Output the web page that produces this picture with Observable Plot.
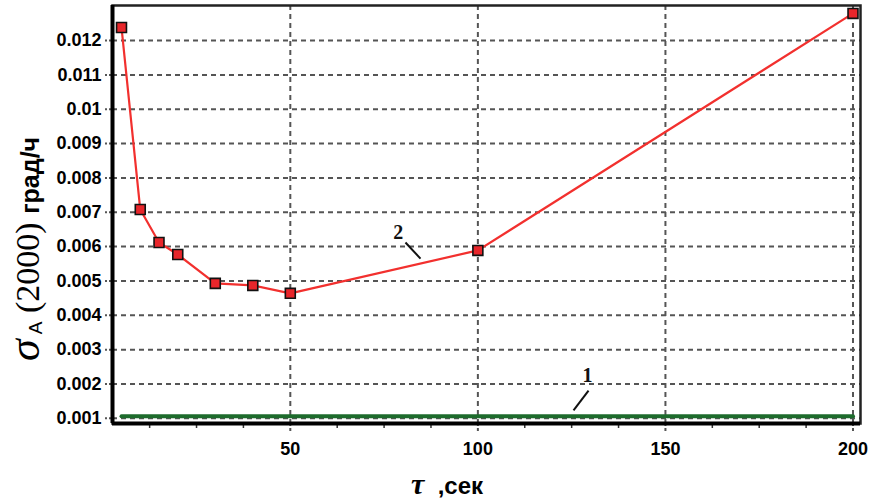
<!DOCTYPE html>
<html>
<head>
<meta charset="utf-8">
<script src="https://cdn.jsdelivr.net/npm/d3@7"></script>
<script src="https://cdn.jsdelivr.net/npm/@observablehq/plot@0.6"></script>
<style>
  html, body { margin: 0; padding: 0; background: #fff; }
</style>
</head>
<body>
<div id="chart"></div>
<script>
// Series 2 (red, squares)
const tau2 = [5, 10, 15, 20, 30, 40, 50, 100, 200];
const sigma2 = [0.01238, 0.00708, 0.00612, 0.00577, 0.00493, 0.00487, 0.00464, 0.00589, 0.01279];
// Series 1 (green line)
const tau1 = [5, 200];
const sigma1 = [0.00106, 0.00106];
// Axes
const xDomain = [2.6, 202];
const yDomain = [0.00085, 0.01302];
const xTicks = [50, 100, 150, 200];
const xMinorTicks = [12.5, 25, 37.5, 62.5, 75, 87.5, 112.5, 125, 137.5, 162.5, 175, 187.5];
const yTicks = [0.001, 0.002, 0.003, 0.004, 0.005, 0.006, 0.007, 0.008, 0.009, 0.01, 0.011, 0.012];
const yTickLabels = ["0.001", "0.002", "0.003", "0.004", "0.005", "0.006", "0.007", "0.008", "0.009", "0.01", "0.011", "0.012"];
// Curve labels and their leader lines
const curveLabels = ["2", "1"];
const labelTau = [78.8, 129.2];
const labelSigma = [0.00641, 0.00225];
const leaderTau1 = [80.7, 129.5];
const leaderSigma1 = [0.00612, 0.00181];
const leaderTau2 = [84.7, 125.5];
const leaderSigma2 = [0.00565, 0.00123];

const s2 = tau2.map((t, i) => ({tau: t, sigma: sigma2[i]}));
const s1 = tau1.map((t, i) => ({tau: t, sigma: sigma1[i]}));
const labels = curveLabels.map((l, i) => ({
  label: l, x: labelTau[i], y: labelSigma[i],
  x1: leaderTau1[i], y1: leaderSigma1[i], x2: leaderTau2[i], y2: leaderSigma2[i]
}));

const tickFont = "'Liberation Sans', Arial, sans-serif";
const gridStyle = {stroke: "#555", strokeOpacity: 1, strokeWidth: 2, strokeDasharray: "5,4"};

const svg = Plot.plot({
  width: 872,
  height: 499,
  marginLeft: 112,
  marginRight: 12,
  marginTop: 5,
  marginBottom: 76,
  style: {background: "#fff", fontFamily: tickFont},
  x: {type: "linear", domain: xDomain},
  y: {type: "linear", domain: yDomain},
  marks: [
    Plot.gridY(yTicks, gridStyle),
    Plot.gridX(xTicks, gridStyle),
    Plot.axisY(yTicks, {
      tickSize: 7, tickPadding: 4, stroke: "#555", strokeWidth: 2, strokeDasharray: "3,2",
      tickFormat: (d) => yTickLabels[yTicks.indexOf(d)],
      fontSize: 18, fontWeight: "bold", fill: "#000", label: null
    }),
    Plot.axisX(xTicks, {
      tickSize: 9, tickPadding: 10, stroke: "#555", strokeWidth: 2, strokeDasharray: "3,2",
      fontSize: 18, fontWeight: "bold", fill: "#000", label: null
    }),
    Plot.axisX(xMinorTicks, {tickSize: 5, stroke: "#333", strokeWidth: 1.5, text: null, label: null}),
    Plot.frame({stroke: "#222", strokeWidth: 2.5}),
    Plot.ruleX([xDomain[0]], {stroke: "#000", strokeWidth: 4}),
    Plot.ruleY([yDomain[0]], {stroke: "#000", strokeWidth: 4}),
    Plot.line(s1, {x: "tau", y: "sigma", stroke: "#1d6b2c", strokeWidth: 4}),
    Plot.line(s2, {x: "tau", y: "sigma", stroke: "#f2302e", strokeWidth: 2.2}),
    Plot.dot(s2, {x: "tau", y: "sigma", symbol: "square", r: 5.6, fill: "#e8262b", stroke: "#111", strokeWidth: 1.6}),
    Plot.link(labels, {x1: "x1", y1: "y1", x2: "x2", y2: "y2", stroke: "#111", strokeWidth: 2}),
    Plot.text(labels, {x: "x", y: "y", text: "label", fontSize: 20, fontWeight: "bold",
      fontFamily: "'Liberation Serif', 'Times New Roman', serif", fill: "#111"})
  ]
});

const root = d3.select(svg);
// Y axis title (rich text)
const yt = root.append("text")
  .attr("transform", "translate(39,249) rotate(-90)")
  .attr("text-anchor", "middle")
  .attr("fill", "#000");
yt.append("tspan").attr("font-family", "'Liberation Serif', serif").attr("font-style", "italic")
  .attr("font-size", 44).text("σ");
yt.append("tspan").attr("font-family", "'Liberation Sans', sans-serif").attr("font-size", 19)
  .attr("dy", 3).text(" A");
yt.append("tspan").attr("font-family", "'Liberation Serif', serif").attr("font-size", 34)
  .attr("dy", -3).text(" (2000) ");
yt.append("tspan").attr("font-family", "'Liberation Sans', sans-serif").attr("font-weight", "bold")
  .attr("font-size", 25).text("град/ч");

// X axis title
const xt = root.append("text")
  .attr("x", 447).attr("y", 494)
  .attr("text-anchor", "middle")
  .attr("fill", "#000");
xt.append("tspan").attr("font-family", "'Liberation Serif', serif").attr("font-style", "italic")
  .attr("font-weight", "bold").attr("font-size", 30).text("τ");
xt.append("tspan").attr("font-family", "'Liberation Sans', sans-serif").attr("font-weight", "bold")
  .attr("font-size", 24).text("  ,сек");

document.getElementById("chart").appendChild(svg);
</script>
</body>
</html>
